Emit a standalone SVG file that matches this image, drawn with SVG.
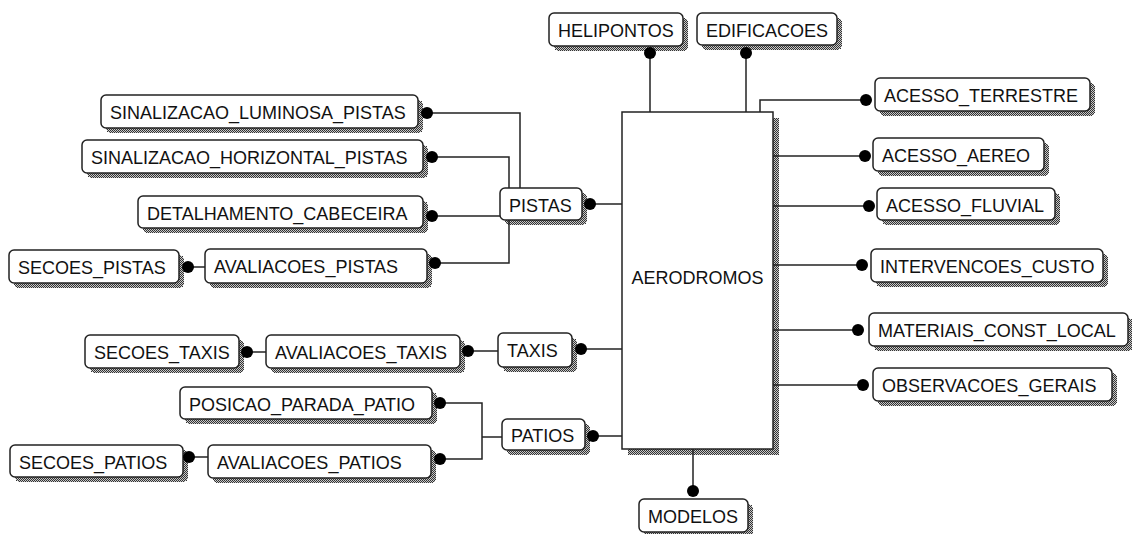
<svg xmlns="http://www.w3.org/2000/svg" width="1132" height="534" viewBox="0 0 1132 534">
<style>
.box{fill:#fff;stroke:#222;stroke-width:1.5}
.sh{fill:url(#dither);shape-rendering:crispEdges}
.lbl{font-family:"Liberation Sans",Arial,sans-serif;font-size:18px;fill:#111}
.conn path,.conn line{fill:none;stroke:#222;stroke-width:1.5}
.dot{fill:#000}
</style>
<defs>
<pattern id="dither" width="2" height="2" patternUnits="userSpaceOnUse">
<rect width="2" height="2" fill="#c8c8c8"/>
<rect width="1" height="1" fill="#333"/>
<rect x="1" y="1" width="1" height="1" fill="#333"/>
</pattern>
</defs>
<rect width="1132" height="534" fill="#fff"/>

<g id="aerodromos">
<rect class="sh" x="628" y="118" width="151" height="337"/>
<rect class="box" x="622" y="112" width="151" height="337"/>
<text class="lbl" x="697.5" y="284" text-anchor="middle">AERODROMOS</text>
</g>

<g id="helipontos">
<rect class="sh" x="554" y="18" width="134" height="33" rx="5"/>
<rect class="box" x="549" y="13" width="134" height="33" rx="5"/>
<text class="lbl" x="558" y="37">HELIPONTOS</text>
</g>
<g id="edificacoes">
<rect class="sh" x="702" y="18" width="140" height="32" rx="5"/>
<rect class="box" x="697" y="13" width="140" height="32" rx="5"/>
<text class="lbl" x="706" y="37">EDIFICACOES</text>
</g>

<g id="acesso_terrestre">
<rect class="sh" x="880" y="83" width="215" height="33" rx="5"/>
<rect class="box" x="875" y="78" width="215" height="33" rx="5"/>
<text class="lbl" x="884" y="102">ACESSO_TERRESTRE</text>
</g>
<g id="acesso_aereo">
<rect class="sh" x="878" y="143" width="171" height="33" rx="5"/>
<rect class="box" x="873" y="138" width="171" height="33" rx="5"/>
<text class="lbl" x="882" y="162">ACESSO_AEREO</text>
</g>
<g id="acesso_fluvial">
<rect class="sh" x="882" y="193" width="178" height="32" rx="5"/>
<rect class="box" x="877" y="188" width="178" height="32" rx="5"/>
<text class="lbl" x="886" y="212">ACESSO_FLUVIAL</text>
</g>
<g id="intervencoes_custo">
<rect class="sh" x="876" y="254" width="232" height="33" rx="5"/>
<rect class="box" x="871" y="249" width="232" height="33" rx="5"/>
<text class="lbl" x="880" y="273">INTERVENCOES_CUSTO</text>
</g>
<g id="materiais_const_local">
<rect class="sh" x="874" y="318" width="259" height="33" rx="5"/>
<rect class="box" x="869" y="313" width="259" height="33" rx="5"/>
<text class="lbl" x="878" y="337">MATERIAIS_CONST_LOCAL</text>
</g>
<g id="observacoes_gerais">
<rect class="sh" x="878" y="373" width="239" height="33" rx="5"/>
<rect class="box" x="873" y="368" width="239" height="33" rx="5"/>
<text class="lbl" x="882" y="392">OBSERVACOES_GERAIS</text>
</g>

<g id="modelos">
<rect class="sh" x="644" y="504" width="109" height="33" rx="5"/>
<rect class="box" x="639" y="499" width="109" height="33" rx="5"/>
<text class="lbl" x="648" y="523">MODELOS</text>
</g>

<g id="sinalizacao_luminosa_pistas">
<rect class="sh" x="106" y="100" width="317" height="33" rx="5"/>
<rect class="box" x="101" y="95" width="317" height="33" rx="5"/>
<text class="lbl" x="110" y="119">SINALIZACAO_LUMINOSA_PISTAS</text>
</g>
<g id="sinalizacao_horizontal_pistas">
<rect class="sh" x="87" y="145" width="341" height="33" rx="5"/>
<rect class="box" x="82" y="140" width="341" height="33" rx="5"/>
<text class="lbl" x="91" y="164">SINALIZACAO_HORIZONTAL_PISTAS</text>
</g>
<g id="detalhamento_cabeceira">
<rect class="sh" x="143" y="201" width="285" height="32" rx="5"/>
<rect class="box" x="138" y="196" width="285" height="32" rx="5"/>
<text class="lbl" x="147" y="220">DETALHAMENTO_CABECEIRA</text>
</g>
<g id="avaliacoes_pistas">
<rect class="sh" x="210" y="254" width="222" height="34" rx="5"/>
<rect class="box" x="205" y="249" width="222" height="34" rx="5"/>
<text class="lbl" x="214" y="273">AVALIACOES_PISTAS</text>
</g>
<g id="secoes_pistas">
<rect class="sh" x="14" y="255" width="170" height="33" rx="5"/>
<rect class="box" x="9" y="250" width="170" height="33" rx="5"/>
<text class="lbl" x="18" y="274">SECOES_PISTAS</text>
</g>
<g id="pistas">
<rect class="sh" x="505" y="193" width="82" height="32" rx="5"/>
<rect class="box" x="500" y="188" width="82" height="32" rx="5"/>
<text class="lbl" x="509" y="212">PISTAS</text>
</g>

<g id="secoes_taxis">
<rect class="sh" x="90" y="340" width="154" height="33" rx="5"/>
<rect class="box" x="85" y="335" width="154" height="33" rx="5"/>
<text class="lbl" x="94" y="359">SECOES_TAXIS</text>
</g>
<g id="avaliacoes_taxis">
<rect class="sh" x="271" y="340" width="194" height="33" rx="5"/>
<rect class="box" x="266" y="335" width="194" height="33" rx="5"/>
<text class="lbl" x="275" y="359">AVALIACOES_TAXIS</text>
</g>
<g id="taxis">
<rect class="sh" x="503" y="338" width="74" height="34" rx="5"/>
<rect class="box" x="498" y="333" width="74" height="34" rx="5"/>
<text class="lbl" x="507" y="357">TAXIS</text>
</g>

<g id="posicao_parada_patio">
<rect class="sh" x="185" y="392" width="252" height="32" rx="5"/>
<rect class="box" x="180" y="387" width="252" height="32" rx="5"/>
<text class="lbl" x="189" y="411">POSICAO_PARADA_PATIO</text>
</g>
<g id="avaliacoes_patios">
<rect class="sh" x="213" y="450" width="223" height="33" rx="5"/>
<rect class="box" x="208" y="445" width="223" height="33" rx="5"/>
<text class="lbl" x="217" y="469">AVALIACOES_PATIOS</text>
</g>
<g id="secoes_patios">
<rect class="sh" x="15" y="450" width="173" height="32" rx="5"/>
<rect class="box" x="10" y="445" width="173" height="32" rx="5"/>
<text class="lbl" x="19" y="469">SECOES_PATIOS</text>
</g>
<g id="patios">
<rect class="sh" x="507" y="424" width="83" height="31" rx="5"/>
<rect class="box" x="502" y="419" width="83" height="31" rx="5"/>
<text class="lbl" x="511" y="442">PATIOS</text>
</g>

<g id="connectors" class="conn">
<path d="M650,53 V112"/>
<path d="M746,53 V112"/>
<path d="M760,112 V100 H866"/>
<path d="M773,156 H865"/>
<path d="M773,206 H869"/>
<path d="M773,265 H862"/>
<path d="M773,330 H858"/>
<path d="M773,385 H863"/>
<path d="M693,449 V491"/>
<path d="M427,113 H520 V188"/>
<path d="M432,157 H509 V188"/>
<path d="M432,216 H500"/>
<path d="M435,263 H509 V220"/>
<path d="M188,267 H205"/>
<path d="M590,204 H622"/>
<path d="M247,352 H266"/>
<path d="M468,351 H498"/>
<path d="M581,349 H622"/>
<path d="M440,403 H482 V459 H440"/>
<path d="M482,437 H502"/>
<path d="M189,457 H208"/>
<path d="M593,436 H622"/>
<circle class="dot" cx="650" cy="53" r="6"/>
<circle class="dot" cx="746" cy="53" r="6"/>
<circle class="dot" cx="866" cy="100" r="6"/>
<circle class="dot" cx="865" cy="156" r="6"/>
<circle class="dot" cx="869" cy="206" r="6"/>
<circle class="dot" cx="862" cy="265" r="6"/>
<circle class="dot" cx="858" cy="330" r="6"/>
<circle class="dot" cx="863" cy="385" r="6"/>
<circle class="dot" cx="693" cy="491" r="6"/>
<circle class="dot" cx="427" cy="113" r="6"/>
<circle class="dot" cx="432" cy="157" r="6"/>
<circle class="dot" cx="432" cy="216" r="6"/>
<circle class="dot" cx="435" cy="263" r="6"/>
<circle class="dot" cx="188" cy="267" r="6"/>
<circle class="dot" cx="590" cy="204" r="6"/>
<circle class="dot" cx="247" cy="352" r="6"/>
<circle class="dot" cx="468" cy="351" r="6"/>
<circle class="dot" cx="581" cy="349" r="6"/>
<circle class="dot" cx="440" cy="403" r="6"/>
<circle class="dot" cx="440" cy="459" r="6"/>
<circle class="dot" cx="189" cy="457" r="6"/>
<circle class="dot" cx="593" cy="436" r="6"/>
</g>
</svg>
